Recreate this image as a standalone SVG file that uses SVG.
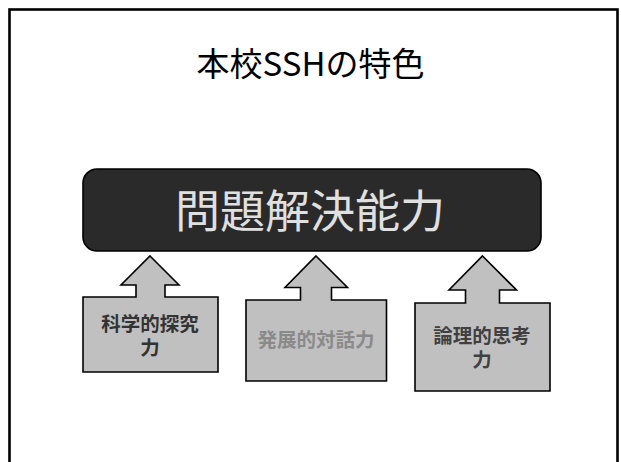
<svg xmlns="http://www.w3.org/2000/svg" width="621" height="462" viewBox="0 0 621 462">
<style>
.box{fill:#c0c0c0;stroke:#000;stroke-width:1.6;stroke-linejoin:miter}
.lbl{font-family:"Noto Sans CJK JP","Noto Sans",sans-serif;font-weight:bold;font-size:19.5px;text-anchor:middle}
</style>
<rect x="0" y="0" width="621" height="462" fill="#fff"/>
<rect x="9.5" y="9.5" width="608" height="470" fill="none" stroke="#000" stroke-width="2.6"/>
<text x="310.5" y="76" font-family="'Noto Sans CJK JP','Noto Sans',sans-serif" font-size="33" text-anchor="middle" fill="#000">本校SSHの特色</text>
<g id="main">
<rect x="83" y="169" width="458" height="82" rx="14" fill="#2a2a2a" stroke="#000" stroke-width="1.6"/>
<text x="310" y="228" font-family="'Noto Sans CJK JP','Noto Sans',sans-serif" font-size="45" text-anchor="middle" fill="#e0e0e0">問題解決能力</text>
</g>
<g id="connectors"></g>
<g id="n1">
<path class="box" d="M150,256 L179,285 L165,285 L165,297 L218,297 L218,372 L83,372 L83,297 L136,297 L136,285 L121,285 Z"/>
<text class="lbl" fill="#333" x="150" y="331">科学的探究</text>
<text class="lbl" fill="#333" x="150" y="355">力</text>
</g>
<g id="n2">
<path class="box" d="M316,256 L347.5,287.5 L331.5,287.5 L331.5,300 L386.5,300 L386.5,381 L246,381 L246,300 L300.5,300 L300.5,287.5 L285,287.5 Z"/>
<text class="lbl" fill="#8a8a8a" x="316" y="347">発展的対話力</text>
</g>
<g id="n3">
<path class="box" d="M482.5,256 L516.5,290 L499.5,290 L499.5,303 L550,303 L550,391 L415,391 L415,303 L465.5,303 L465.5,290 L449,290 Z"/>
<text class="lbl" fill="#404040" x="482" y="343">論理的思考</text>
<text class="lbl" fill="#404040" x="482" y="367">力</text>
</g>
</svg>
